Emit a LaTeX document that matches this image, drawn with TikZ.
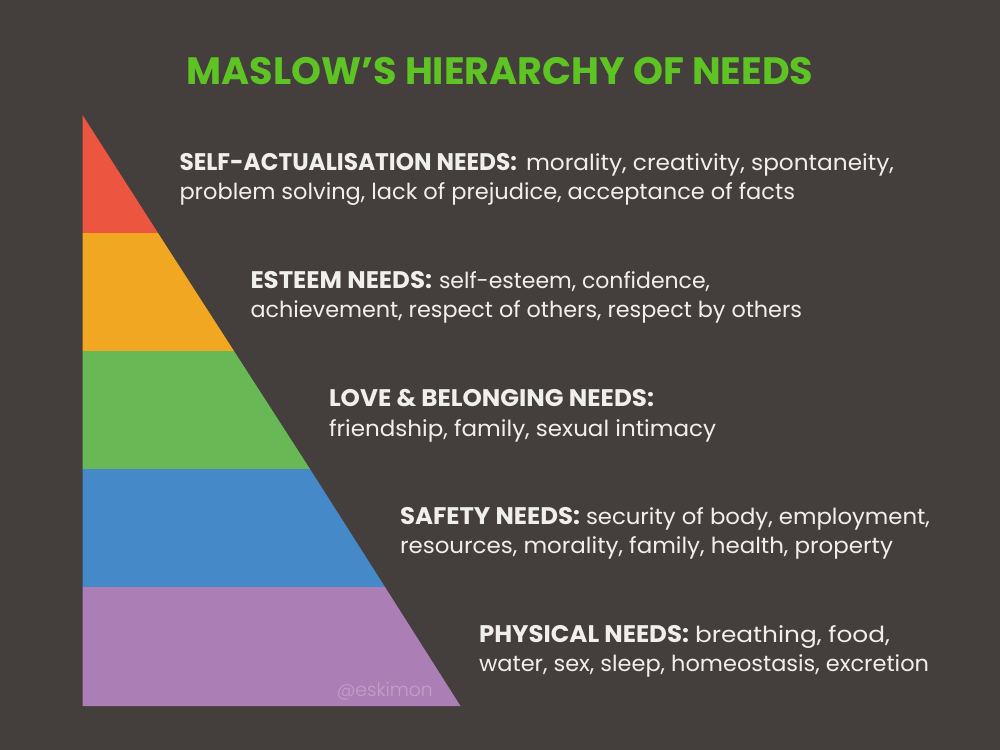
\documentclass[tikz,border=0pt]{standalone}
\usepackage{graphicx}
\usepackage{fontspec}
\setmainfont{Poppins}
\newfontfamily\lightfont{Poppins Light}
\definecolor{bgc}{HTML}{443F3C}
\definecolor{titlec}{HTML}{5EC423}
\definecolor{txtc}{HTML}{F1EFEE}
\definecolor{redc}{HTML}{EC5641}
\definecolor{orangec}{HTML}{F2A722}
\definecolor{greenc}{HTML}{69B856}
\definecolor{bluec}{HTML}{4689C8}
\definecolor{purplec}{HTML}{AB7FB5}
\definecolor{markc}{HTML}{C19FC9}
\tikzset{
  lbl/.style={anchor=base west,inner sep=0pt,outer sep=0pt,text=txtc,font=\fontsize{16.6}{16.6}\selectfont},
  hdl/.style={lbl,font=\fontsize{18}{18}\selectfont\bfseries},
}
% set a text to the width, in reference pixels, that it has in the reference
\newcommand{\fitw}[2]{\resizebox{\dimexpr #1pt*3/4\relax}{\height}{#2}}
\begin{document}
\begin{tikzpicture}[x=0.75pt,y=-0.75pt]
\useasboundingbox (0,0) rectangle (1000,750);
\fill[bgc] (0,0) rectangle (1000,750);
\fill[redc] (82.5,115) -- (158,233) -- (82.5,233) -- cycle;
\fill[orangec] (82.5,233) -- (158,233) -- (234,351) -- (82.5,351) -- cycle;
\fill[greenc] (82.5,351) -- (234,351) -- (310,469) -- (82.5,469) -- cycle;
\fill[bluec] (82.5,469) -- (310,469) -- (385,587) -- (82.5,587) -- cycle;
\fill[purplec] (82.5,587) -- (385,587) -- (460.5,706) -- (82.5,706) -- cycle;
\node[anchor=base,inner sep=0pt,text=titlec,font=\fontsize{28.6}{28.6}\selectfont\bfseries] (title) at (500,84.5) {MASLOW’S HIERARCHY OF NEEDS};
\node[hdl] (a1) at (179.5,170) {\fitw{337.5}{SELF-ACTUALISATION NEEDS:}};
\node[lbl] (a1r) at (526,170) {\fitw{368}{morality, creativity, spontaneity,}};
\node[lbl] (a2) at (179.5,199) {\fitw{615.5}{problem solving, lack of prejudice, acceptance of facts}};
\node[hdl] (b1) at (250.5,288) {\fitw{181.5}{ESTEEM NEEDS:}};
\node[lbl] (b1r) at (439,288) {\fitw{271}{self-esteem, confidence,}};
\node[lbl] (b2) at (250.5,317) {\fitw{551.5}{achievement, respect of others, respect by others}};
\node[hdl] (c1) at (329,406) {\fitw{325}{LOVE \& BELONGING NEEDS:}};
\node[lbl] (c2) at (329,436) {\fitw{387}{friendship, family, sexual intimacy}};
\node[hdl] (d1) at (400,524) {\fitw{180}{SAFETY NEEDS:}};
\node[lbl] (d1r) at (586,524) {\fitw{344}{security of body, employment,}};
\node[lbl] (d2) at (400,553) {\fitw{493}{resources, morality, family, health, property}};
\node[hdl] (e1) at (479,642) {\fitw{210}{PHYSICAL NEEDS:}};
\node[lbl] (e1r) at (695,642) {\fitw{195}{breathing, food,}};
\node[lbl] (e2) at (479,671) {\fitw{450}{water, sex, sleep, homeostasis, excretion}};
\node[anchor=base west,inner sep=0pt,text=markc,font=\fontsize{14}{14}\lightfont] (mark) at (336.5,696) {@eskimon};
\end{tikzpicture}
\end{document}
